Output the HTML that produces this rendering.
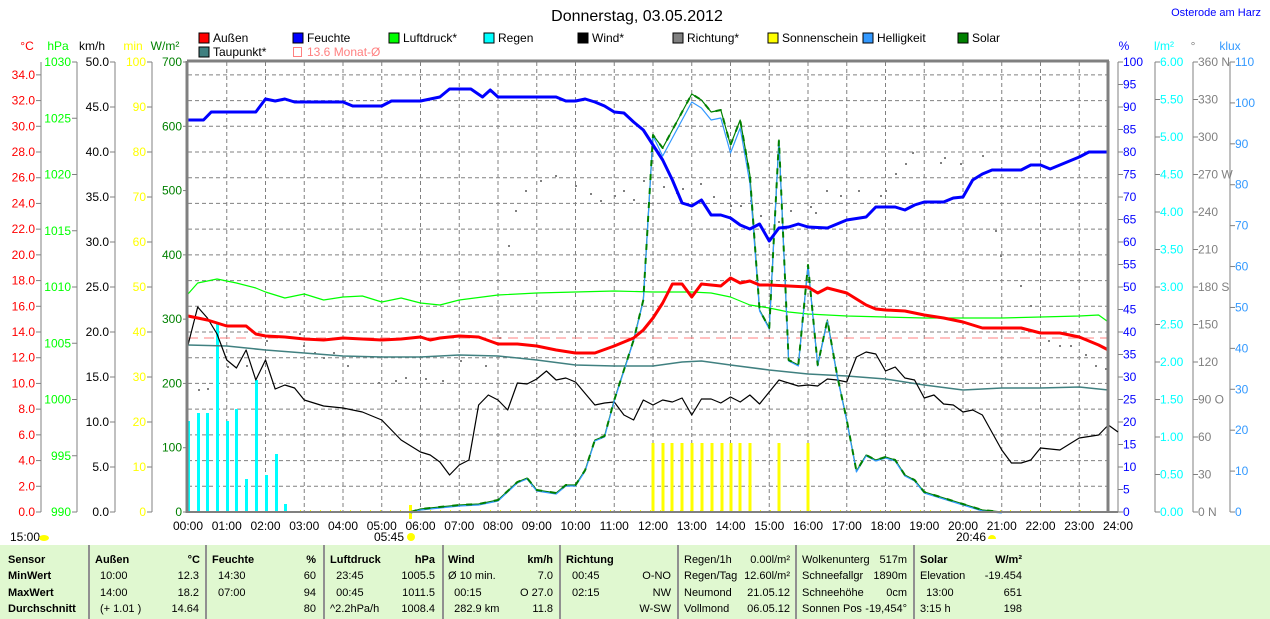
<!DOCTYPE html>
<html><head><meta charset="utf-8">
<style>
body{margin:0;background:#fff;width:1270px;height:619px;overflow:hidden;font-family:"Liberation Sans",sans-serif;}
svg{position:absolute;left:0;top:0}
#tbl{position:absolute;left:0;top:545px;width:1270px;height:74px;background:#e0f8d0;font-size:11px}
#tbl div{position:absolute;white-space:nowrap}
.b{font-weight:bold}
.sep{position:absolute;top:0;width:2px;height:74px;background:#909090}
</style></head><body>
<svg id="s" width="1270" height="545" font-family="Liberation Sans, sans-serif" font-size="12"></svg>
<div id="tbl"></div>
<script>
const S=document.getElementById('s');let h='';
const X=t=>{if(typeof t==='string'){const[a,b]=t.split(':');t=+a+ +b/60;}return 188+38.75*t;};
const T=(x,y,s,c,a,extra)=>{h+=`<text x="${x}" y="${y}" fill="${c||'#000'}" text-anchor="${a||'start'}" ${extra||''}>${s}</text>`;};
const L=(x1,y1,x2,y2,c,w,d)=>{h+=`<line x1="${x1}" y1="${y1}" x2="${x2}" y2="${y2}" stroke="${c}" stroke-width="${w||1}" ${d?`stroke-dasharray="${d}"`:''}/>`;};
const P=(arr,c,w,d)=>{h+=`<polyline fill="none" stroke="${c}" stroke-width="${w}" ${d?`stroke-dasharray="${d}"`:''} stroke-linejoin="round" points="${arr.map(p=>X(p[0])+','+p[1]).join(' ')}"/>`;};
T(637,21,'Donnerstag, 03.05.2012','#000','middle','font-size="16"');
T(1261,16,'Osterode am Harz','#0000ff','end','font-size="11"');
const lg=[[199,38,'#ff0000','Außen'],[293,38,'#0000ff','Feuchte'],[389,38,'#00ff00','Luftdruck*'],[484,38,'#00ffff','Regen'],[578,38,'#000000','Wind*'],[673,38,'#808080','Richtung*'],[768,38,'#ffff00','Sonnenschein'],[863,38,'#3399ff','Helligkeit'],[958,38,'#008000','Solar'],[199,52,'#408080','Taupunkt*']];
lg.forEach(l=>{h+=`<rect x="${l[0]}" y="${l[1]-5}" width="10" height="10" fill="${l[2]}" stroke="#000"/>`;T(l[0]+14,l[1]+4,l[3]);});
h+=`<rect x="293.5" y="47.5" width="8" height="9" fill="none" stroke="#ff8080"/>`;T(307,56,'13.6 Monat-Ø','#ff8080');
[[27,'°C','#ff0000'],[58,'hPa','#00ff00'],[92,'km/h','#000'],[133,'min','#ffff00'],[165,'W/m²','#008000'],[1124,'%','#0000ff'],[1164,'l/m²','#00ffff'],[1193,'°','#808080'],[1230,'klux','#3399ff']].forEach(u=>T(u[0],50,u[1],u[2],'middle'));
for(let i=0;i<=17;i++){const y=512-i*25.714;L(188,y,1108,y,'#808080',1,'4,3');}
for(let i=1;i<24;i++){const x=X(i);L(x,62,x,512,'#808080',1,'4,3');}
function axis(x,vals,y0,ystep,col,fmt,side){L(x,62,x,512,'#808080',1);vals.forEach((v,i)=>{const y=y0-i*ystep;if(side==='l'){L(x-5,y,x,y,'#808080');T(x-6,y+4,fmt(v),col,'end');}else{L(x,y,x+5,y,'#808080');T(x+5,y+4,fmt(v),col,'start');}});}
const rng=(a,b,s)=>{let r=[];for(let v=a;v<=b+1e-9;v+=s)r.push(v);return r;};
axis(41,rng(0,34,2),512,25.714,'#ff0000',v=>v.toFixed(1),'l');
axis(77,rng(990,1030,5),512,56.25,'#00ff00',v=>v,'l');
axis(115,rng(0,50,5),512,45,'#000',v=>v.toFixed(1),'l');
axis(152,rng(0,100,10),512,45,'#ffff00',v=>v,'l');
rng(0,700,100).forEach((v,i)=>{const y=512-i*64.286;L(183,y,188,y,'#808080');T(182,y+4,v,'#008000','end');});
axis(1118,rng(0,100,5),512,22.5,'#0000ff',v=>v,'r');
axis(1155,rng(0,6,0.5),512,37.5,'#00ffff',v=>v.toFixed(2),'r');
const dn={0:'N',90:'O',180:'S',270:'W',360:'N'};
axis(1193,rng(0,360,30),512,37.5,'#808080',v=>v+(dn[v]!==undefined?(v<100?'  ':' ')+dn[v]:''),'r');
axis(1230,rng(0,110,10),512,40.909,'#3399ff',v=>v,'r');
for(let i=0;i<=24;i++)T(X(i),530,(i<10?'0':'')+i+':00','#000','middle');
T(10,541,'15:00');h+=`<ellipse cx="44" cy="538" rx="5" ry="3" fill="#ffff00"/>`;
T(404,541,'05:45','#000','end');h+=`<circle cx="411" cy="537" r="4" fill="#ffff00"/>`;
T(986,541,'20:46','#000','end');h+=`<path d="M988 539 a4 4 0 0 1 8 0 z" fill="#ffff00"/>`;
[[188,421],[198,413],[207,413],[217,323],[227,421],[236,409],[246,479],[256,380],[266,475],[276,454],[285,504]].forEach(b=>h+=`<rect x="${b[0]-1}" y="${b[1]}" width="3" height="${512-b[1]}" fill="#00ffff"/>`);
[653,663,672,682,692,702,712,722,731,740,750,779,808].forEach(x=>h+=`<rect x="${x-1.5}" y="443" width="3" height="69" fill="#ffff00"/>`);
h+=`<rect x="409" y="505" width="3" height="14" fill="#ffff00"/>`;
for(let x=300;x<1100;x+=10)h+=`<rect x="${x}" y="510" width="1" height="1" fill="#ffff00"/>`;
[[198,389],[207,388],[227,366],[246,365],[266,340],[299,333],[303,345],[314,352],[323,357],[333,352],[347,365],[378,382],[395,380],[405,377],[425,378],[442,380],[460,360],[485,365],[499,337],[508,245],[515,210],[525,190],[540,180],[555,175],[575,185],[590,193],[600,200],[614,195],[623,190],[633,199],[643,180],[663,186],[676,192],[682,188],[700,183],[713,196],[730,205],[740,205],[750,200],[760,215],[778,221],[790,210],[810,206],[815,212],[826,190],[840,195],[858,190],[880,195],[885,190],[895,173],[905,163],[912,152],[940,162],[944,157],[960,163],[982,155],[995,230],[1000,255],[1020,285],[1030,305],[1048,340],[1059,345],[1070,345],[1085,354],[1095,365],[1105,368]].forEach(d=>h+=`<rect x="${d[0]}" y="${d[1]}" width="2" height="2" fill="#808080"/>`);
const dew=[[0,345],[1,346],[2,350],[3,353],[4,356],[5,357],[6,357],[7,355],[8,356],[9,360],[10,365],[11,366],[12,366],[12.75,362],[13.25,361],[14,365],[15,370],[16,374],[17,376],[18,379],[19,385],[20,390],[21,388],[22,388],[23,387],[23.75,390]];
P(dew,'#408080',1.5);
L(188,338,1108,338,'#ff8080',1,'10,6');
const pr=[[0,294],[0.25,283],[0.75,279],[1.25,283],[1.75,288],[2,292],[2.5,298],[3,294],[3.5,300],[4,297],[4.5,296],[5,302],[5.5,298],[6,303],[6.5,305],[7,300],[8,295],[9,293],[10,292],[11,291],[12,292],[13,292],[13.5,293],[14,297],[14.5,305],[15,308],[15.5,312],[16,314],[17,316],[18,317],[19,318],[20,318],[21,318],[22,317],[23,316],[23.5,315],[23.75,322]];
P(pr,'#00ff00',1.2);
const wind=[[0,345],[0.25,307],[0.5,318],[0.75,334],[1,360],[1.25,368],[1.5,350],[1.75,380],[2,360],[2.25,389],[2.5,385],[2.75,388],[3,400],[3.5,406],[4,408],[4.5,412],[5,420],[5.5,440],[6,452],[6.25,455],[6.5,462],[6.75,475],[7,465],[7.25,460],[7.5,405],[7.75,395],[8,400],[8.25,410],[8.5,383],[8.75,384],[9,379],[9.25,371],[9.5,380],[9.75,378],[10,382],[10.5,405],[10.75,403],[11,402],[11.25,415],[11.5,420],[11.75,400],[12,405],[12.25,400],[12.5,402],[12.75,398],[13,415],[13.25,399],[13.5,399],[13.75,403],[14,397],[14.25,402],[14.5,395],[14.75,404],[15,392],[15.25,380],[15.5,383],[15.75,386],[16,385],[16.25,386],[16.5,379],[16.75,380],[17,382],[17.25,357],[17.5,352],[17.75,354],[18,371],[18.25,367],[18.5,378],[18.75,380],[19,398],[19.25,395],[19.5,404],[19.75,405],[20,412],[20.25,410],[20.5,415],[21,450],[21.25,463],[21.5,463],[21.75,460],[22,448],[22.5,450],[23,438],[23.5,435],[23.75,425],[24,432]];
P(wind,'#000',1.2);
const sol=[[5.75,512],[6,509],[7,505],[7.5,504],[8,500],[8.5,482],[8.75,478],[9,490],[9.5,493],[9.75,485],[10,485],[10.25,470],[10.5,440],[10.75,436],[11,400],[11.25,370],[11.5,340],[11.75,300],[12,135],[12.25,148],[12.5,130],[12.75,112],[13,94],[13.25,100],[13.5,112],[13.75,110],[14,145],[14.25,120],[14.5,175],[14.75,310],[15,328],[15.25,140],[15.5,360],[15.75,365],[16,265],[16.25,365],[16.5,320],[16.75,375],[17,420],[17.25,471],[17.5,455],[17.75,460],[18,457],[18.25,460],[18.5,475],[18.75,480],[19,492],[19.5,498],[20,504],[20.5,510],[21,512]];
const hel=sol.map(p=>[p[0],(p[0]>12&&p[0]<14.6&&p[1]<200)?p[1]+8:p[1]+1]);
P(sol,'#008000',1.2);P(hel,'#3399ff',1.2);P(sol,'#008000',2,'6,8');
const tmp=[[0,316],[0.5,320],[1,326],[1.5,326],[1.75,334],[2,336],[2.5,337],[3,339],[3.5,340],[4,338],[4.5,339],[5,340],[5.5,339],[6,337],[6.25,340],[6.5,338],[7,336],[7.5,337],[8,344],[8.5,344],[9,346],[9.5,350],[10,353],[10.5,353],[11,346],[11.5,338],[11.75,330],[12,318],[12.25,303],[12.5,284],[12.75,284],[13,297],[13.25,284],[13.75,286],[14,278],[14.25,283],[14.5,281],[14.75,285],[15,285],[15.5,286],[16,287],[16.25,293],[16.5,288],[17,293],[17.5,305],[17.75,309],[18,310],[18.5,311],[19,315],[19.5,318],[20,322],[20.5,328],[21.5,328],[22,333],[22.5,333],[23,337],[23.5,345],[23.75,350]];
P(tmp,'#ff0000',3);
const hum=[[0,120],[0.4,120],[0.6,112],[1.5,112],[1.75,112],[2,99],[2.25,101],[2.5,99],[2.75,102],[4,102],[4.25,106],[5,106],[5.25,101],[6,101],[6.5,97],[6.75,89],[7.3,89],[7.6,97],[7.8,90],[8,97],[9.5,97],[9.75,101],[10,101],[10.25,99],[10.5,102],[10.75,106],[11,112],[11.25,113],[11.5,122],[11.75,130],[12,145],[12.25,160],[12.5,180],[12.75,203],[13,206],[13.25,200],[13.5,215],[13.75,215],[14,218],[14.25,225],[14.5,229],[14.75,224],[15,241],[15.25,228],[15.5,227],[15.75,224],[16,227],[16.5,228],[17,220],[17.5,217],[17.75,207],[18.25,207],[18.5,210],[18.75,205],[19,202],[19.5,202],[19.75,198],[20,197],[20.25,180],[20.5,174],[20.75,170],[21,170],[21.5,170],[21.75,165],[22,165],[22.25,169],[22.5,165],[23,157],[23.25,152],[23.75,152]];
P(hum,'#0000ff',3);
L(187,61,1109,61,'#808080',3);L(187,61,187,513,'#808080',3);L(1108,61,1108,513,'#808080',3);L(187,512,1118,512,'#808080',2);
S.innerHTML=h;
const tb=document.getElementById('tbl');let t='';
const C=(x,y,s,b,r)=>{t+=`<div class="${b?'b':''}" style="${r?'right:'+(1270-x)+'px':'left:'+x+'px'};top:${y}px">${s}</div>`;};
[88,205,323,442,559,677,795,913].forEach(x=>t+=`<div class="sep" style="left:${x}px"></div>`);
const ys=[9,25,42,58];
['Sensor','MinWert','MaxWert','Durchschnitt'].forEach((s,i)=>C(8,ys[i],s,1));
C(95,ys[0],'Außen',1);C(200,ys[0],'°C',1,1);
[['10:00','12.3'],['14:00','18.2'],['(+ 1.01 )','14.64']].forEach((r,i)=>{C(100,ys[i+1],r[0]);C(199,ys[i+1],r[1],0,1);});
C(212,ys[0],'Feuchte',1);C(316,ys[0],'%',1,1);
[['14:30','60'],['07:00','94'],['','80']].forEach((r,i)=>{C(218,ys[i+1],r[0]);C(316,ys[i+1],r[1],0,1);});
C(330,ys[0],'Luftdruck',1);C(435,ys[0],'hPa',1,1);
[['&nbsp; 23:45','1005.5'],['&nbsp; 00:45','1011.5'],['^2.2hPa/h','1008.4']].forEach((r,i)=>{C(330,ys[i+1],r[0]);C(435,ys[i+1],r[1],0,1);});
C(448,ys[0],'Wind',1);C(553,ys[0],'km/h',1,1);
[['Ø 10 min.','7.0'],['&nbsp; 00:15','O 27.0'],['&nbsp; 282.9 km','11.8']].forEach((r,i)=>{C(448,ys[i+1],r[0]);C(553,ys[i+1],r[1],0,1);});
C(566,ys[0],'Richtung',1);
[['00:45','O-NO'],['02:15','NW'],['','W-SW']].forEach((r,i)=>{C(572,ys[i+1],r[0]);C(671,ys[i+1],r[1],0,1);});
[['Regen/1h','0.00l/m²'],['Regen/Tag','12.60l/m²'],['Neumond','21.05.12'],['Vollmond','06.05.12']].forEach((r,i)=>{C(684,ys[i],r[0]);C(790,ys[i],r[1],0,1);});
[['Wolkenunterg','517m'],['Schneefallgr','1890m'],['Schneehöhe','0cm'],['Sonnen Pos','-19,454°']].forEach((r,i)=>{C(802,ys[i],r[0]);C(907,ys[i],r[1],0,1);});
C(920,ys[0],'Solar',1);C(1022,ys[0],'W/m²',1,1);
[['Elevation','-19.454'],['&nbsp; 13:00','651'],['3:15 h','198']].forEach((r,i)=>{C(920,ys[i+1],r[0]);C(1022,ys[i+1],r[1],0,1);});
tb.innerHTML=t;
</script>
</body></html>
